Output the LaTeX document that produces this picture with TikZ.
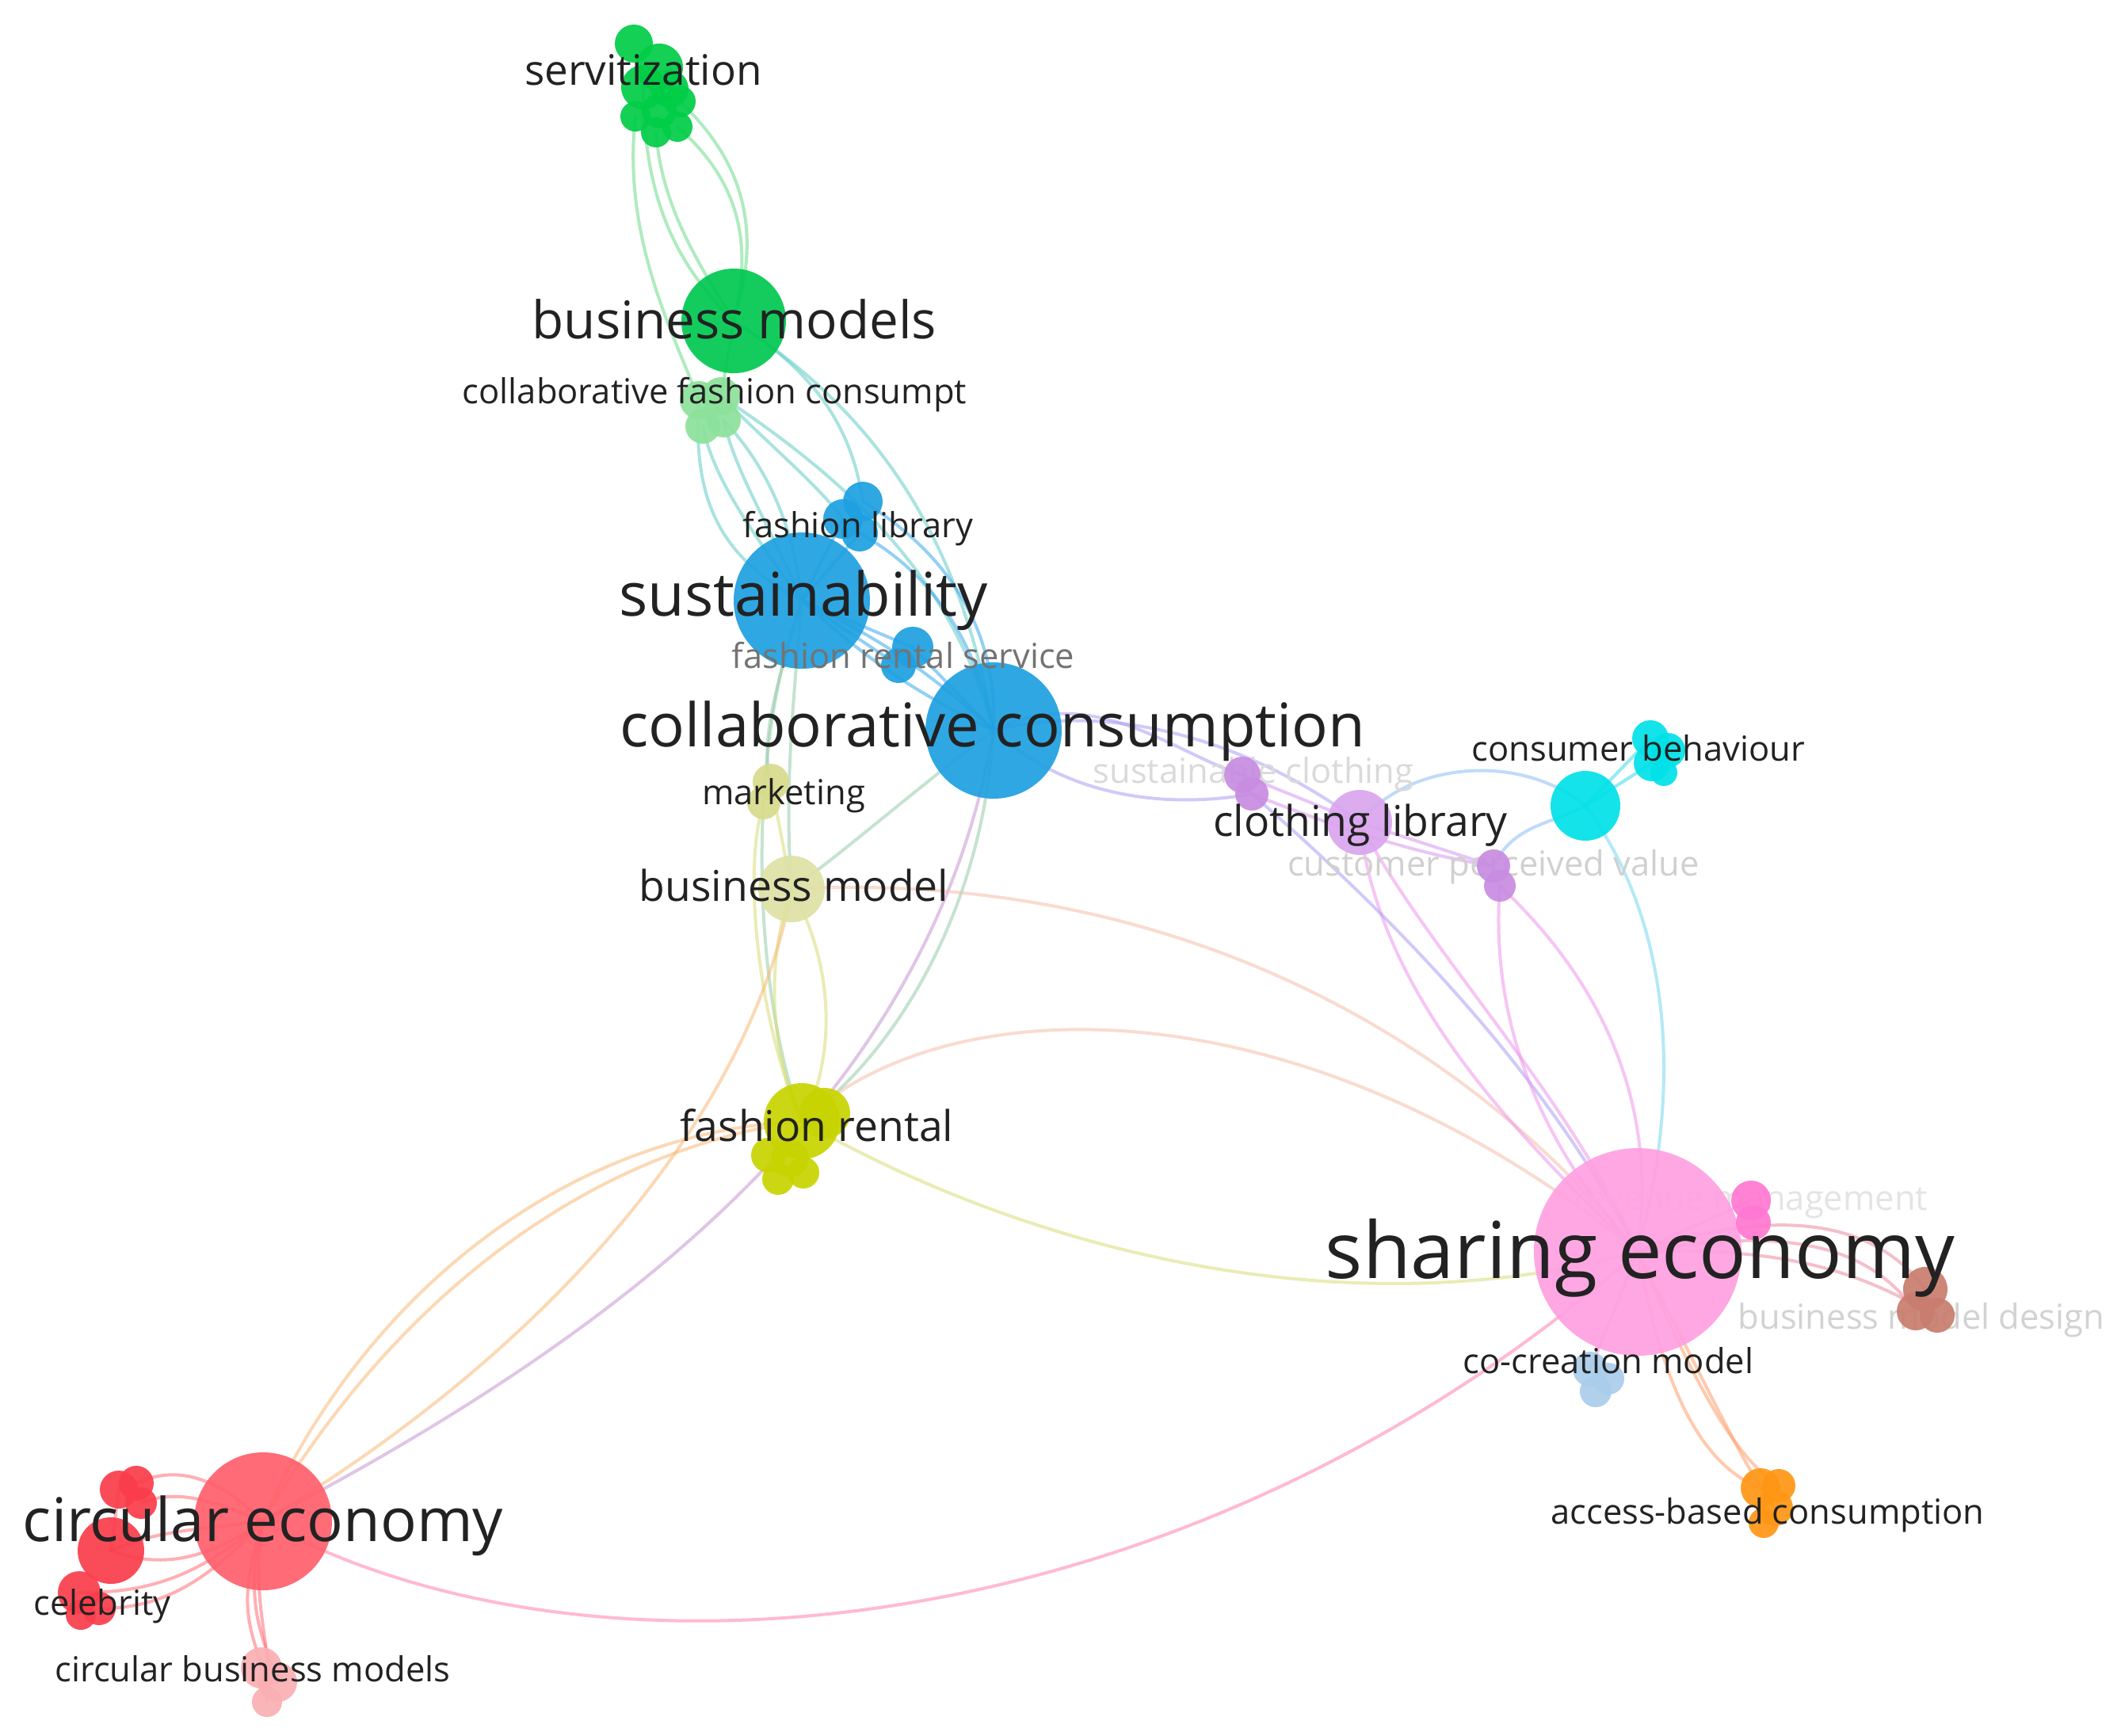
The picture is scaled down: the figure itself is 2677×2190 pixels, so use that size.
\documentclass[tikz,border=0pt]{standalone}
\usepackage{fontspec}
\setmainfont{Open Sans}
\pgfdeclarelayer{edges}
\pgfsetlayers{edges,main}
\definecolor{gA}{RGB}{0,200,80}
\definecolor{gB}{RGB}{0,205,70}
\definecolor{gC}{RGB}{140,225,155}
\definecolor{bA}{RGB}{30,160,225}
\definecolor{yA}{RGB}{200,212,0}
\definecolor{yB}{RGB}{222,226,165}
\definecolor{yC}{RGB}{215,220,140}
\definecolor{pA}{RGB}{218,165,238}
\definecolor{pB}{RGB}{200,140,225}
\definecolor{cA}{RGB}{0,225,232}
\definecolor{kA}{RGB}{255,160,225}
\definecolor{kB}{RGB}{255,120,210}
\definecolor{brA}{RGB}{200,125,110}
\definecolor{lbA}{RGB}{170,205,235}
\definecolor{oA}{RGB}{255,150,20}
\definecolor{rA}{RGB}{255,95,108}
\definecolor{rB}{RGB}{250,60,75}
\definecolor{rC}{RGB}{250,175,180}
\definecolor{txt}{RGB}{34,34,34}
\definecolor{eG}{RGB}{110,220,140}
\definecolor{eGB}{RGB}{100,205,200}
\definecolor{eB}{RGB}{60,170,235}
\definecolor{eBY}{RGB}{150,205,170}
\definecolor{eBR}{RGB}{200,150,210}
\definecolor{eY}{RGB}{215,222,120}
\definecolor{eYR}{RGB}{250,185,120}
\definecolor{eYK}{RGB}{245,190,170}
\definecolor{eRK}{RGB}{255,130,170}
\definecolor{eBP}{RGB}{170,160,245}
\definecolor{eP}{RGB}{215,150,240}
\definecolor{ePC}{RGB}{140,190,245}
\definecolor{eC}{RGB}{60,220,235}
\definecolor{ePK}{RGB}{240,150,235}
\definecolor{eCK}{RGB}{120,215,240}
\definecolor{eK}{RGB}{255,140,215}
\definecolor{eKBr}{RGB}{235,140,160}
\definecolor{eKO}{RGB}{255,160,110}
\definecolor{eR}{RGB}{255,110,120}
\tikzset{
  dot/.style={circle, inner sep=0pt, outer sep=0pt, minimum size={2*#1 pt}, fill opacity=.92},
  ed/.style={line width=4pt, draw opacity=.55, line cap=round},
  lbl/.style={anchor=base, inner sep=0pt, text=txt},
}
\newcommand{\fs}[1]{\fontsize{#1}{#1}\selectfont}
\newcommand{\dotc}[5]{\node[dot=#4, fill=#5] (#1) at (#2,#3) {};}
\begin{document}
\begin{tikzpicture}[x=1pt,y=-1pt]
\useasboundingbox (0,0) rectangle (2677,2190);
% ---------- circles ----------
% green
\dotc{sv1}{800}{55}{24}{gB}
\dotc{sv2}{832}{85}{30}{gB}
\dotc{sv3}{812}{110}{28}{gB}
\dotc{sv9}{845}{112}{24}{gB}
\dotc{sv4}{858}{128}{20}{gB}
\dotc{sv8}{832}{140}{22}{gB}
\dotc{sv5}{802}{147}{19}{gB}
\dotc{sv7}{855}{160}{19}{gB}
\dotc{sv6}{828}{167}{19}{gB}
\dotc{bm}{926}{405}{66}{gA}
\dotc{cf1}{882}{505}{24}{gC}
\dotc{cf2}{910}{500}{24}{gC}
\dotc{cf3}{887}{538}{22}{gC}
\dotc{cf4}{913}{530}{22}{gC}
% blue
\dotc{su}{1012}{758}{86}{bA}
\dotc{fl1}{1089}{633}{25}{bA}
\dotc{fl2}{1064}{655}{25}{bA}
\dotc{fl3}{1085}{673}{23}{bA}
\dotc{frs1}{1152}{817}{26}{bA}
\dotc{frs2}{1134}{840}{22}{bA}
\dotc{cc}{1254}{922}{86}{bA}
% yellow
\dotc{mk1}{973}{987}{23}{yC}
\dotc{mk2}{964}{1013}{21}{yC}
\dotc{bmod}{999}{1122}{42}{yB}
\dotc{fr}{1012}{1415}{48}{yA}
\dotc{fr2}{1041}{1405}{32}{yA}
\dotc{fr3}{970}{1458}{22}{yA}
\dotc{fr4}{997}{1462}{24}{yA}
\dotc{fr5}{982}{1488}{20}{yA}
\dotc{fr6}{1014}{1480}{20}{yA}
% purple
\dotc{sc1}{1568}{978}{23}{pB}
\dotc{sc2}{1580}{1002}{21}{pB}
\dotc{cl}{1716}{1038}{41}{pA}
\dotc{cpv1}{1885}{1093}{21}{pB}
\dotc{cpv2}{1893}{1118}{20}{pB}
% cyan
\dotc{cb}{2001}{1017}{44}{cA}
\dotc{cbs1}{2083}{932}{23}{cA}
\dotc{cbs2}{2105}{947}{22}{cA}
\dotc{cbs3}{2085}{963}{23}{cA}
\dotc{cbs4}{2100}{975}{17}{cA}
% pink group
\dotc{se}{2067}{1580}{131}{kA}
\dotc{mg1}{2210}{1515}{25}{kB}
\dotc{mg2}{2213}{1543}{22}{kB}
\dotc{bmd1}{2430}{1627}{28}{brA}
\dotc{bmd2}{2418}{1655}{24}{brA}
\dotc{bmd3}{2445}{1660}{22}{brA}
\dotc{cm1}{2007}{1728}{22}{lbA}
\dotc{cm2}{2030}{1740}{20}{lbA}
\dotc{cm3}{2014}{1756}{20}{lbA}
\dotc{ab1}{2222}{1878}{25}{oA}
\dotc{ab2}{2245}{1875}{21}{oA}
\dotc{ab3}{2240}{1903}{23}{oA}
\dotc{ab4}{2226}{1922}{19}{oA}
% red
\dotc{ce}{332}{1920}{87}{rA}
\dotc{rm}{140}{1957}{42}{rB}
\dotc{rt1}{150}{1880}{24}{rB}
\dotc{rt2}{172}{1872}{22}{rB}
\dotc{rt3}{178}{1897}{20}{rB}
\dotc{rc1}{100}{2010}{27}{rB}
\dotc{rc2}{125}{2030}{21}{rB}
\dotc{rc3}{102}{2038}{19}{rB}
\dotc{cbm1}{330}{2105}{26}{rC}
\dotc{cbm2}{350}{2123}{25}{rC}
\dotc{cbm3}{337}{2148}{19}{rC}
% ---------- labels ----------
\node[lbl,font=\fs{53}] (tsv) at (812,107) {servitization};
\node[lbl,font=\fs{65.6}] (tbm) at (927,427) {business models};
\node[lbl,font=\fs{43.5}] (tcf) at (902,509) {collaborative fashion consumpt};
\node[lbl,font=\fs{43.5}] (tfl) at (1083,678) {fashion library};
\node[lbl,font=\fs{76}] (tsu) at (1014,777) {sustainability};
\node[lbl,font=\fs{43.5},text={rgb,255:red,115;green,115;blue,115}] (tfrs) at (1140,843) {fashion rental service};
\node[lbl,font=\fs{76}] (tcc) at (1253,942) {collaborative consumption};
\node[lbl,font=\fs{43.5}] (tcb) at (2068,960) {consumer behaviour};
\node[lbl,font=\fs{43.5}] (tmk) at (989,1015) {marketing};
\node[lbl,font=\fs{53.5}] (tcl) at (1717,1055) {clothing library};
\node[lbl,font=\fs{53.5}] (tbmod) at (1002,1137) {business model};
\node[lbl,font=\fs{53.5}] (tfr) at (1031,1440) {fashion rental};
\node[lbl,font=\fs{99}] (tse) at (2070,1613) {sharing economy};
\node[lbl,font=\fs{43.5}] (tcm) at (2030,1733) {co-creation model};
\node[lbl,font=\fs{43.5}] (tab) at (2231,1923) {access-based consumption};
\node[lbl,font=\fs{76}] (tce) at (332,1945) {circular economy};
\node[lbl,font=\fs{43.5}] (tcel) at (129,2038) {celebrity};
\node[lbl,font=\fs{43.5}] (tcbm) at (319,2122) {circular business models};
% ---------- edges ----------
\begin{pgfonlayer}{edges}
\fill[white] (0,0) rectangle (2677,2190);
% green
\draw[ed,eG] (sv5.center) .. controls (785,300) and (850,420) .. (cf1.center);
\draw[ed,eG] (sv3.center) .. controls (812,260) and (860,340) .. (bm.center);
\draw[ed,eG] (sv6.center) .. controls (835,260) and (880,330) .. (bm.center);
\draw[ed,eG] (sv7.center) .. controls (935,230) and (950,310) .. (bm.center);
\draw[ed,eG] (sv4.center) .. controls (945,210) and (960,300) .. (bm.center);
\draw[ed,eG] (bm.center) -- (cf2.center);
\draw[ed,eGB] (bm.center) .. controls (1030,470) and (1075,540) .. (fl1.center);
\draw[ed,eGB] (bm.center) .. controls (1090,510) and (1210,660) .. (cc.center);
\draw[ed,eGB] (cf3.center) .. controls (900,600) and (940,660) .. (su.center);
\draw[ed,eGB] (cf4.center) .. controls (930,600) and (970,660) .. (su.center);
\draw[ed,eGB] (cf4.center) .. controls (960,580) and (1000,650) .. (su.center);
\draw[ed,eGB] (cf1.center) .. controls (875,620) and (900,700) .. (su.center);
\draw[ed,eGB] (cf2.center) .. controls (980,570) and (1030,610) .. (fl2.center);
\draw[ed,eGB] (cf2.center) .. controls (1060,600) and (1200,720) .. (cc.center);
% blue
\draw[ed,eB] (su.center) -- (fl2.center);
\draw[ed,eB] (su.center) -- (fl3.center);
\draw[ed,eB] (su.center) -- (frs1.center);
\draw[ed,eB] (su.center) -- (frs2.center);
\draw[ed,eB] (su.center) to[bend left=8] (cc.center);
\draw[ed,eB] (su.center) to[bend right=8] (cc.center);
\draw[ed,eB] (fl3.center) .. controls (1170,720) and (1230,800) .. (cc.center);
\draw[ed,eB] (fl1.center) .. controls (1200,700) and (1260,800) .. (cc.center);
\draw[ed,eB] (frs1.center) -- (cc.center);
% blue / yellow
\draw[ed,eBY] (su.center) .. controls (975,880) and (960,940) .. (mk1.center);
\draw[ed,eBY] (su.center) .. controls (1000,900) and (990,1000) .. (bmod.center);
\draw[ed,eBY] (su.center) .. controls (940,950) and (950,1250) .. (fr.center);
\draw[ed,eBY] (cc.center) .. controls (1150,1000) and (1060,1080) .. (bmod.center);
\draw[ed,eBY] (cc.center) .. controls (1240,1150) and (1130,1330) .. (fr.center);
\draw[ed,eBR] (cc.center) .. controls (1180,1350) and (850,1650) .. (ce.center);
% yellow
\draw[ed,eY] (mk1.center) -- (bmod.center);
\draw[ed,eY] (mk2.center) .. controls (935,1100) and (960,1300) .. (fr.center);
\draw[ed,eY] (bmod.center) .. controls (960,1230) and (980,1350) .. (fr.center);
\draw[ed,eY] (bmod.center) .. controls (1060,1230) and (1050,1350) .. (fr.center);
% to circular economy
\draw[ed,eYR] (fr.center) .. controls (700,1430) and (450,1650) .. (ce.center);
\draw[ed,eYR] (fr.center) .. controls (720,1455) and (480,1665) .. (ce.center);
\draw[ed,eYR] (bmod.center) .. controls (950,1400) and (700,1700) .. (ce.center);
% to sharing economy
\draw[ed,eRK] (ce.center) .. controls (750,2150) and (1500,2080) .. (se.center);
\draw[ed,eY] (fr.center) .. controls (1300,1580) and (1700,1680) .. (se.center);
\draw[ed,eYK] (fr.center) .. controls (1200,1240) and (1650,1240) .. (se.center);
\draw[ed,eYK] (bmod.center) .. controls (1400,1100) and (1800,1250) .. (se.center);
% purple
\draw[ed,eBP] (cc.center) .. controls (1380,860) and (1480,950) .. (sc1.center);
\draw[ed,eBP] (cc.center) .. controls (1350,1010) and (1480,1020) .. (sc2.center);
\draw[ed,eBP] (cc.center) .. controls (1420,880) and (1600,950) .. (cl.center);
\draw[ed,eP] (sc1.center) -- (cl.center);
\draw[ed,eP] (sc2.center) .. controls (1700,1050) and (1800,1080) .. (cpv1.center);
\draw[ed,eP] (cl.center) -- (cpv1.center);
\draw[ed,ePC] (cl.center) .. controls (1780,960) and (1920,950) .. (cb.center);
\draw[ed,ePC] (cpv1.center) .. controls (1910,1040) and (1960,1040) .. (cb.center);
\draw[ed,eC] (cb.center) -- (cbs1.center);
\draw[ed,eC] (cb.center) -- (cbs3.center);
% pink
\draw[ed,ePK] (cl.center) .. controls (1740,1250) and (1900,1420) .. (se.center);
\draw[ed,ePK] (cl.center) .. controls (1800,1200) and (1980,1380) .. (se.center);
\draw[ed,eBP] (sc2.center) .. controls (1750,1150) and (1950,1350) .. (se.center);
\draw[ed,ePK] (cpv2.center) .. controls (1880,1300) and (1950,1450) .. (se.center);
\draw[ed,ePK] (cpv2.center) .. controls (1980,1200) and (2100,1350) .. (se.center);
\draw[ed,eCK] (cb.center) .. controls (2100,1150) and (2130,1350) .. (se.center);
\draw[ed,eK] (se.center) -- (mg1.center);
\draw[ed,eKBr] (se.center) .. controls (2280,1510) and (2380,1560) .. (bmd1.center);
\draw[ed,eKBr] (se.center) .. controls (2290,1540) and (2370,1590) .. (bmd2.center);
\draw[ed,eKBr] (se.center) .. controls (2300,1570) and (2380,1630) .. (bmd3.center);
\draw[ed,eKO] (se.center) .. controls (2100,1760) and (2150,1850) .. (ab1.center);
\draw[ed,eKO] (se.center) .. controls (2140,1750) and (2190,1840) .. (ab2.center);
\draw[ed,eKO] (se.center) .. controls (2160,1760) and (2200,1850) .. (ab3.center);
\draw[ed,eK] (se.center) -- (cm1.center);
% red
\draw[ed,eR] (rt2.center) .. controls (220,1850) and (270,1860) .. (ce.center);
\draw[ed,eR] (rt3.center) .. controls (220,1880) and (260,1890) .. (ce.center);
\draw[ed,eR] (rm.center) .. controls (200,1930) and (260,1930) .. (ce.center);
\draw[ed,eR] (rm.center) .. controls (200,1980) and (260,1970) .. (ce.center);
\draw[ed,eR] (rc1.center) .. controls (170,2010) and (240,2000) .. (ce.center);
\draw[ed,eR] (rc2.center) .. controls (190,2030) and (250,2010) .. (ce.center);
\draw[ed,eR] (ce.center) .. controls (295,2030) and (320,2060) .. (cbm1.center);
\draw[ed,eR] (ce.center) .. controls (305,2030) and (335,2070) .. (cbm2.center);
\draw[ed,eR] (ce.center) .. controls (315,2030) and (345,2070) .. (cbm3.center);
\draw[ed,eR] (rt1.center) -- (rm.center);
% faint labels (beneath circles)
\node[lbl,font=\fs{43.5},text={rgb,255:red,218;green,218;blue,218}] (tsc) at (1582,988) {sustainable clothing};
\node[lbl,font=\fs{43.5},text={rgb,255:red,208;green,208;blue,208}] (tcpv) at (1885,1105) {customer perceived value};
\node[lbl,font=\fs{43.5},text={rgb,255:red,228;green,228;blue,228}] (tmg) at (2210,1527) {revenue management};
\node[lbl,font=\fs{43.5},text={rgb,255:red,210;green,210;blue,210}] (tbmd) at (2425,1677) {business model design};
\end{pgfonlayer}
\end{tikzpicture}
\end{document}
